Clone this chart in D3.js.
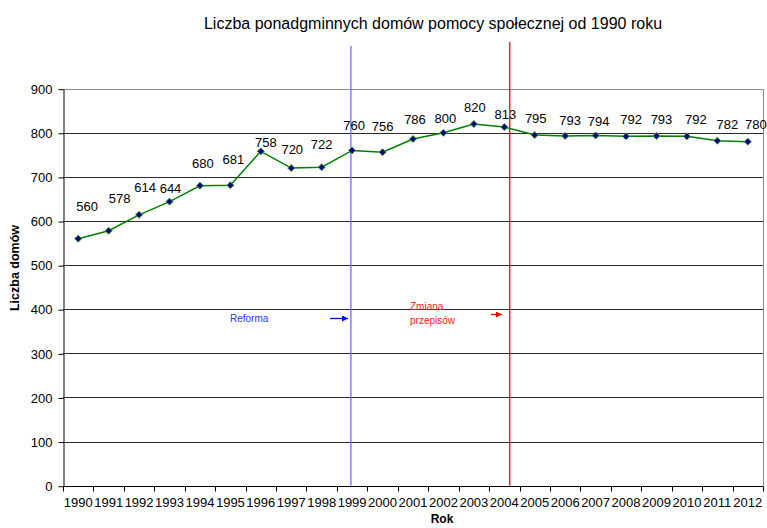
<!DOCTYPE html>
<html>
<head>
<meta charset="utf-8">
<script src="https://cdn.jsdelivr.net/npm/d3@7"></script>
<style>
  body { margin: 0; background: #fff; }
  text { font-family: "Liberation Sans", Arial, sans-serif; }
</style>
</head>
<body>
<div id="chart"></div>
<script>
// data
var years = d3.range(1990, 2013);
var homes = [560, 578, 614, 644, 680, 681, 758, 720, 722, 760, 756, 786,
             800, 820, 813, 795, 793, 794, 792, 793, 792, 782, 780];
var yTicks = [0, 100, 200, 300, 400, 500, 600, 700, 800, 900];

// hand placed label nudges (px) as in the original spreadsheet chart
var labelLift = [32, 32, 27, 13, 22, 26, 9, 19, 23, 25, 26, 20,
                 14, 17, 13, 17, 15, 14, 17, 16, 17, 16, 17];
var labelShift = [9, 11, 6, 1, 3, 3, 5, 1, 0, 2, 0, 2,
                  2, 1, 1, 1, 5, 3, 5, 5, 9, 10, 8];

(function (d3) {

    var W = 767, H = 528;
    var left = 63, right = 763, top = 88.7, bottom = 485.7;

    var svg = d3.select("#chart").append("svg")
                .attr("width", W)
                .attr("height", H);

    var x = d3.scaleLinear().domain([1989.5, 2012.5]).range([left, right]);
    var y = d3.scaleLinear().domain([0, 900]).range([bottom, top]);

    /***** gridlines and frame *****/
    svg.append("g")
       .selectAll("line")
       .data(yTicks.filter(function(d) { return d > 0 && d < 900; }))
       .enter()
       .append("line")
       .attr("x1", left).attr("x2", right)
       .attr("y1", function(d) { return Math.round(y(d)) + 0.5; })
       .attr("y2", function(d) { return Math.round(y(d)) + 0.5; })
       .attr("stroke", "#2b2b2b");

    svg.append("path")
       .attr("d", "M" + left + "," + (Math.round(top) + 0.5) + "H" + (right + 0.5) + "V" + bottom)
       .attr("fill", "none")
       .attr("stroke", "#8c8c8c");

    /***** y axis *****/
    var yAxis = svg.append("g")
       .attr("transform", "translate(" + (left + 0.5) + ",0.5)")
       .call(d3.axisLeft(y).tickValues(yTicks).tickSize(5).tickSizeOuter(0).tickPadding(6));
    yAxis.select(".domain").attr("stroke", "#000");
    yAxis.selectAll(".tick line").attr("stroke", "#000");
    yAxis.selectAll("text")
         .style("font-size", "13px")
         .style("font-family", "'Liberation Sans', Arial, sans-serif")
         .attr("fill", "#000");

    /***** x axis *****/
    var bounds = d3.range(1989.5, 2013, 1);
    var xAxis = svg.append("g")
       .attr("transform", "translate(0," + (Math.round(bottom) + 0.5) + ")");
    xAxis.append("line")
         .attr("x1", left).attr("x2", right + 0.5)
         .attr("stroke", "#000");
    xAxis.selectAll(".tk")
         .data(bounds)
         .enter()
         .append("line")
         .attr("class", "tk")
         .attr("x1", function(d) { return Math.round(x(d)) + 0.5; })
         .attr("x2", function(d) { return Math.round(x(d)) + 0.5; })
         .attr("y1", 0).attr("y2", 5)
         .attr("stroke", "#000");
    xAxis.selectAll(".lbl")
         .data(years)
         .enter()
         .append("text")
         .attr("class", "lbl")
         .attr("x", function(d) { return x(d); })
         .attr("y", 16)
         .attr("dy", "0.35em")
         .attr("text-anchor", "middle")
         .style("font-size", "13px")
         .text(function(d) { return d; });

    /***** event lines *****/
    svg.append("line")
       .attr("x1", x(1998.96)).attr("x2", x(1998.96))
       .attr("y1", 46).attr("y2", bottom)
       .attr("stroke", "#6f6fff").attr("stroke-width", 1.3);
    svg.append("line")
       .attr("x1", x(2004.18)).attr("x2", x(2004.18))
       .attr("y1", 42).attr("y2", bottom)
       .attr("stroke", "#ff0000").attr("stroke-width", 1.3);

    /***** annotations *****/
    svg.append("defs").selectAll("marker")
       .data([["blueHead", "#0000ff"], ["redHead", "#ff0000"]])
       .enter()
       .append("marker")
       .attr("id", function(d) { return d[0]; })
       .attr("viewBox", "0 0 10 10")
       .attr("refX", 10).attr("refY", 5)
       .attr("markerWidth", 6).attr("markerHeight", 6)
       .attr("markerUnits", "userSpaceOnUse")
       .attr("orient", "auto")
       .append("path")
       .attr("d", "M0,0L10,5L0,10z")
       .attr("fill", function(d) { return d[1]; });

    svg.append("text")
       .attr("x", 230).attr("y", 318.3).attr("dy", "0.35em")
       .attr("fill", "#3333ff")
       .style("font-size", "10px")
       .text("Reforma");
    svg.append("line")
       .attr("x1", 330).attr("x2", 348)
       .attr("y1", 318.5).attr("y2", 318.5)
       .attr("stroke", "#0000ff").attr("stroke-width", 1.3)
       .attr("marker-end", "url(#blueHead)");

    svg.append("text")
       .attr("x", 410).attr("y", 306.7).attr("dy", "0.35em")
       .attr("fill", "#ff2020")
       .style("font-size", "10px")
       .text("Zmiana");
    svg.append("text")
       .attr("x", 410).attr("y", 320.7).attr("dy", "0.35em")
       .attr("fill", "#ff2020")
       .style("font-size", "10px")
       .text("przepisów");
    svg.append("line")
       .attr("x1", 491).attr("x2", 502)
       .attr("y1", 314.5).attr("y2", 314.5)
       .attr("stroke", "#ff0000").attr("stroke-width", 1.3)
       .attr("marker-end", "url(#redHead)");

    /***** series *****/
    var pts = years.map(function(d, i) { return {year: d, v: homes[i], i: i}; });

    svg.append("path")
       .datum(pts)
       .attr("fill", "none")
       .attr("stroke", "#008000")
       .attr("stroke-width", 1.5)
       .attr("d", d3.line()
                    .x(function(d) { return x(d.year); })
                    .y(function(d) { return y(d.v); }));

    svg.selectAll(".pt")
       .data(pts)
       .enter()
       .append("path")
       .attr("class", "pt")
       .attr("transform", function(d) { return "translate(" + x(d.year) + "," + y(d.v) + ")"; })
       .attr("d", "M0,-3.5L3.5,0L0,3.5L-3.5,0Z")
       .attr("fill", "#000080")
       .attr("stroke", "#3c9a3c")
       .attr("stroke-width", 1);

    svg.selectAll(".val")
       .data(pts)
       .enter()
       .append("text")
       .attr("class", "val")
       .attr("x", function(d) { return x(d.year) + labelShift[d.i]; })
       .attr("y", function(d) { return y(d.v) - labelLift[d.i]; })
       .attr("dy", "0.35em")
       .attr("text-anchor", "middle")
       .style("font-size", "13px")
       .text(function(d) { return d.v; });

    /***** titles *****/
    svg.append("text")
       .attr("x", 433).attr("y", 23.6).attr("dy", "0.35em")
       .attr("text-anchor", "middle")
       .style("font-size", "16px")
       .text("Liczba ponadgminnych domów pomocy społecznej od 1990 roku");

    svg.append("text")
       .attr("x", 442).attr("y", 519).attr("dy", "0.35em")
       .attr("text-anchor", "middle")
       .style("font-size", "12px")
       .style("font-weight", "bold")
       .text("Rok");

    svg.append("text")
       .attr("transform", "translate(15,268) rotate(-90)")
       .attr("dy", "0.35em")
       .attr("text-anchor", "middle")
       .style("font-size", "12.5px")
       .style("font-weight", "bold")
       .text("Liczba domów");

})(d3);
</script>
</body>
</html>
